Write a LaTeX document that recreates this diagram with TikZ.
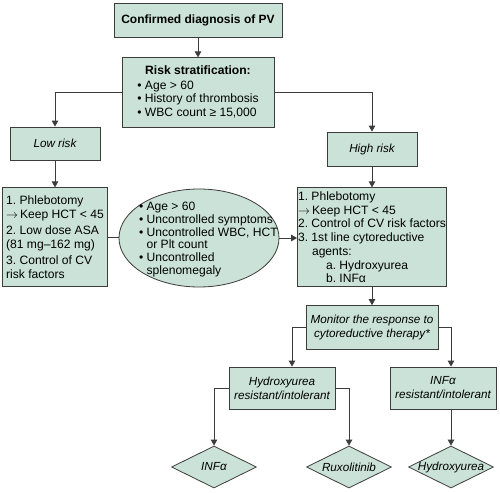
\documentclass[tikz,border=0pt]{standalone}
\usepackage{fontspec}
\setmainfont{Liberation Sans}
\usepackage{xcolor}
\usetikzlibrary{arrows.meta,positioning,shapes.geometric}
\definecolor{boxfill}{RGB}{202,226,216}
\definecolor{boxline}{RGB}{60,60,60}
\newcommand{\boxfont}{\fontsize{12.1}{13.7}\selectfont\frenchspacing}
\newcommand{\slantfont}{\fontsize{11.7}{14}\selectfont\itshape}
\newcommand{\tightfont}{\fontsize{12.1}{12.8}\selectfont\frenchspacing}
\tikzset{
	arrow/.style={-{Triangle[length=6pt,width=6.5pt]}, line width=0.8pt, draw=boxline},
	link/.style={line width=0.8pt, draw=boxline}
}

\begin{document}
\begin{tikzpicture}[x=1pt, y=-1pt,
			flowbox/.style={draw=boxline, fill=boxfill, line width=0.8pt,
				inner sep=0pt, align=center, font=\boxfont},
			listbox/.style={flowbox, align=left},
			riskbox/.style={flowbox, font=\slantfont},
			oval/.style={ellipse, draw=boxline, fill=boxfill, line width=0.8pt,
				inner sep=0pt, minimum width=160pt, minimum height=98pt, font=\tightfont},
			choice/.style={diamond, draw=boxline, fill=boxfill, line width=0.8pt,
				inner sep=0pt, minimum width=85pt, minimum height=42pt,
				font=\slantfont}
			]
			\useasboundingbox (0,0) rectangle (500,492);
			
			%% -- Diagnosis and risk
			\node[flowbox, minimum width=168pt, minimum height=34pt,
			font=\fontsize{12}{14}\selectfont\bfseries] (diag) at (198,20)
			{Confirmed diagnosis of PV};
			
			\node[flowbox, minimum width=152pt, minimum height=70pt,
			below=20pt of diag] (risk)
			{\begin{tabular}{@{}l@{}}
					\multicolumn{1}{@{}c@{}}{\textbf{Risk stratification:}}\\[1pt]
					• Age > 60\\
					• History of thrombosis\\
					• WBC count ≥ 15,000
			\end{tabular}};
			
			\node[riskbox, minimum width=90pt, minimum height=33pt] (low) at (55,143.5) {Low risk};
			\node[riskbox, minimum width=90pt, minimum height=34pt] (high) at (372,149) {High risk};
			
			%% -- Treatment boxes
			\node[listbox, minimum width=105pt, minimum height=99pt,
			below=27pt of low] (lowtx)
			{1. Phlebotomy\\
				$\rightarrow$\,Keep HCT < 45\\[2.5pt]
				2. Low dose ASA\\
				(81 mg–162 mg)\\[2.5pt]
				3. Control of CV\\
				risk factors};
			
			\node[listbox, minimum width=149pt, minimum height=99pt,
			below=21pt of high] (hightx)
			{1. Phlebotomy\\
				$\rightarrow$\,Keep HCT < 45\\
				2. Control of CV risk factors\\
				3. 1st line cytoreductive\\
				\hspace*{14pt}agents:\\
				\hspace*{28pt}a. Hydroxyurea\\
				\hspace*{28pt}b. INFα};
			
			%% -- Criteria for escalation
			\node[oval] (crit) at (199,238)
			{\smash{\makebox[0pt][l]{\hspace*{-60pt}\raisebox{-5pt}{\begin{tabular}{@{}l@{}}
								• Age > 60\\
								• Uncontrolled symptoms\\
								• Uncontrolled WBC, HCT\\
								\phantom{• }or Plt count\\
								• Uncontrolled\\
								\phantom{• }splenomegaly
			\end{tabular}}}}};
			
			%% -- Response and second line
			\node[riskbox, minimum width=132pt, minimum height=44pt,
			below=18pt of hightx] (monitor)
			{Monitor the response to\\cytoreductive therapy*};
			
			\node[riskbox, minimum width=106pt, minimum height=42pt] (hu) at (282,388)
			{Hydroxyurea\\resistant/intolerant};
			\node[riskbox, minimum width=106pt, minimum height=42pt] (inf) at (443,388)
			{INFα\\resistant/intolerant};
			
			\node[choice] (optinf) at (214,467) {\makebox[0pt]{INFα}};
			\node[choice] (optrux) at (349,467) {\makebox[0pt]{Ruxolitinib}};
			\node[choice] (opthu) at (451,467) {\makebox[0pt]{Hydroxyurea}};
			
			%% -- Connectors
			\draw[arrow] (diag) -- (risk);
			\draw[arrow] (risk.west) -| (low.north);
			\draw[arrow] (risk.east) -| (high.north);
			\draw[arrow] (low) -- (lowtx);
			\draw[arrow] (high) -- (hightx);
			\draw[link]  (lowtx.east) -- (lowtx.east -| crit.west);
			\draw[arrow] (crit.east) -- (hightx.west |- crit.east);
			\draw[arrow] (hightx) -- (monitor);
			\draw[arrow] (monitor.west) -| ([xshift=10pt]hu.north);
			\draw[arrow] (monitor.east) -| ([xshift=8pt]inf.north);
			\draw[arrow] (hu.west) -| (optinf.north);
			\draw[arrow] (hu.east) -| (optrux.north);
			\draw[arrow] ([xshift=8pt]inf.south) -- (opthu.north);
			
		\end{tikzpicture}
\end{document}
